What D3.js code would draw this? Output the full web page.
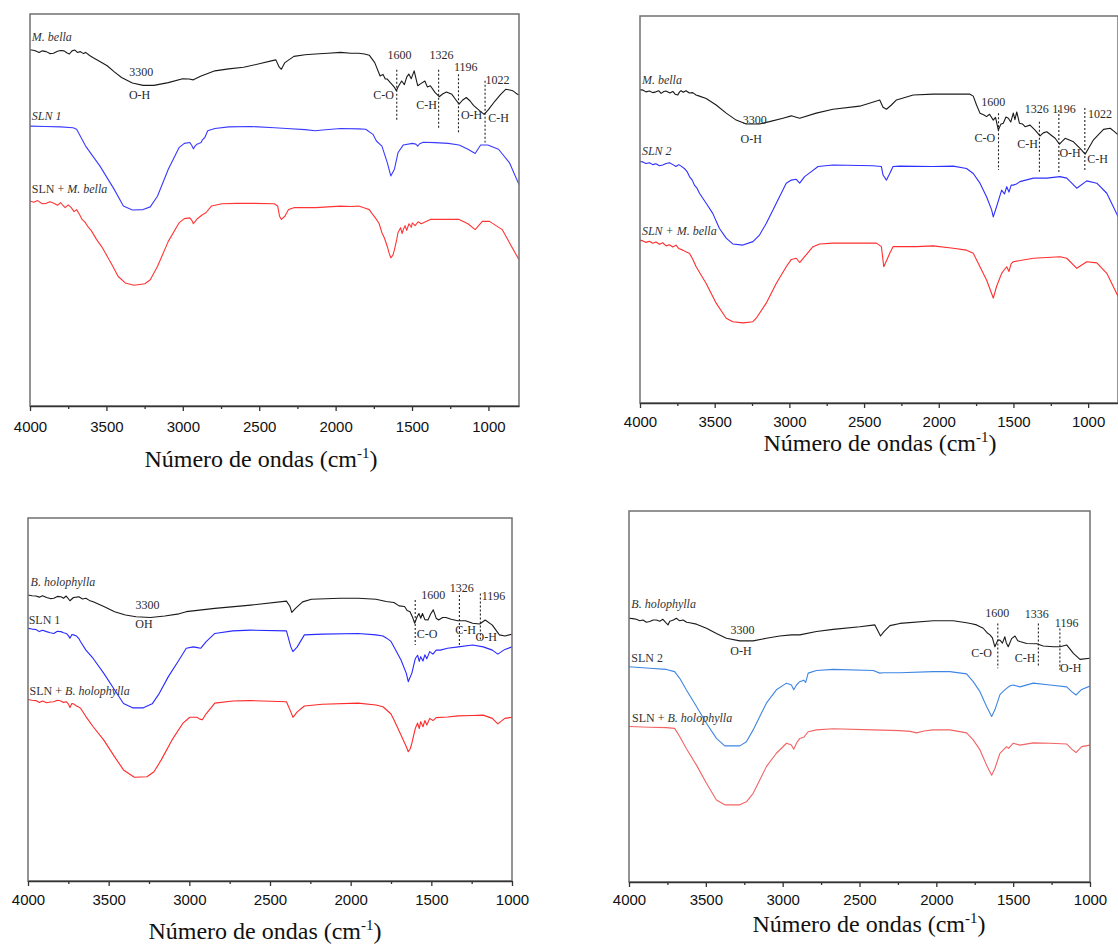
<!DOCTYPE html>
<html>
<head>
<meta charset="utf-8">
<script src="https://cdn.jsdelivr.net/npm/d3@7"></script>
<style>
  body { margin: 0; background: #fff; }
  svg text { font-family: "Liberation Serif", "Times New Roman", serif; }
  .tick text { font-family: "Liberation Sans", Arial, sans-serif; }
</style>
</head>
<body>
<svg id="chart" width="1118" height="947"></svg>
<script>
  // spectra: [wavenumber cm-1, transmittance a.u. 0-100 within each panel]

  // top left: M. bella / SLN 1
  var p1Black = [[4000,90.9],[3970,90.7],[3940,90.2],[3920,90.6],[3894,90.4],[3870,89.9],[3847,90.0],[3820,90.5],[3800,90.7],[3777,90.6],[3760,90.1],[3742,89.8],[3725,90.6],[3706,90.8],[3690,90.2],[3670,90.4],[3650,89.9],[3636,90.2],[3610,89.4],[3589,88.9],[3540,87.8],[3495,86.8],[3450,85.3],[3401,83.8],[3330,82.4],[3260,81.8],[3189,81.8],[3095,82.5],[3001,83.5],[2960,83.4],[2931,83.2],[2884,84.1],[2790,85.5],[2700,86.0],[2602,86.4],[2500,87.3],[2414,88.1],[2391,88.3],[2370,86.5],[2355,85.9],[2332,87.6],[2273,89.2],[2200,89.6],[2132,89.8],[2050,90.0],[1968,90.2],[1900,90.0],[1850,90.0],[1810,89.8],[1780,89.5],[1744,87.6],[1709,84.2],[1690,84.6],[1675,83.4],[1662,83.4],[1645,82.6],[1630,82.0],[1615,81.3],[1603,80.4],[1590,81.5],[1568,82.9],[1550,82.0],[1535,83.9],[1521,84.7],[1505,83.5],[1486,85.5],[1463,81.7],[1440,82.3],[1416,82.9],[1400,81.4],[1380,81.7],[1350,80.0],[1322,78.9],[1300,79.6],[1275,80.1],[1239,79.5],[1215,78.2],[1192,77.0],[1170,78.0],[1145,78.7],[1120,77.8],[1098,76.7],[1060,75.4],[1028,74.4],[1000,75.6],[957,77.8],[920,79.5],[887,80.8],[860,80.6],[840,80.4],[820,79.8],[800,79.3]];
  var p1Blue = [[4000,71.4],[3900,71.3],[3800,71.2],[3718,71.0],[3695,70.6],[3636,66.3],[3542,61.2],[3448,55.2],[3389,51.0],[3330,50.0],[3260,50.1],[3213,50.8],[3166,53.5],[3095,60.4],[3025,65.9],[2990,67.0],[2954,67.2],[2940,66.4],[2931,65.6],[2920,66.3],[2907,66.8],[2880,67.2],[2872,67.9],[2856,68.5],[2837,70.2],[2790,70.8],[2700,71.2],[2555,71.3],[2400,71.0],[2320,70.8],[2200,70.5],[2132,70.2],[2085,70.4],[1968,70.8],[1850,70.7],[1803,70.6],[1756,69.3],[1733,67.6],[1697,66.3],[1662,62.1],[1639,58.7],[1615,60.4],[1592,64.6],[1557,66.6],[1498,67.0],[1475,66.8],[1463,66.3],[1450,66.9],[1427,67.3],[1350,67.2],[1263,67.0],[1192,66.6],[1134,65.5],[1087,64.4],[1051,66.6],[1004,66.6],[934,65.5],[863,62.1],[800,56.5]];
  var p1Red = [[4000,52.3],[3975,52.0],[3950,52.4],[3920,51.6],[3894,51.7],[3870,52.1],[3847,51.8],[3820,51.2],[3800,51.9],[3789,51.4],[3770,50.6],[3750,51.3],[3730,50.6],[3712,49.6],[3695,50.1],[3675,48.8],[3659,47.6],[3640,46.9],[3624,45.9],[3600,44.8],[3565,42.5],[3530,40.6],[3495,38.2],[3460,35.8],[3424,33.1],[3377,31.4],[3319,30.8],[3248,31.2],[3213,32.2],[3166,35.6],[3095,42.0],[3025,46.7],[2990,47.8],[2954,48.0],[2940,47.3],[2931,46.5],[2915,47.3],[2907,47.7],[2872,48.8],[2849,49.3],[2813,51.0],[2743,51.6],[2650,51.7],[2555,51.7],[2402,51.6],[2379,51.0],[2367,48.4],[2355,47.6],[2332,48.4],[2308,50.1],[2273,50.6],[2132,50.6],[1968,51.0],[1900,50.9],[1850,51.0],[1810,50.5],[1780,50.1],[1760,49.0],[1733,47.6],[1715,46.5],[1697,44.2],[1680,42.8],[1662,40.7],[1650,39.0],[1639,37.8],[1625,38.5],[1615,39.9],[1600,42.5],[1592,44.2],[1575,45.5],[1565,44.0],[1557,45.0],[1545,46.0],[1535,44.8],[1520,46.5],[1505,45.6],[1498,46.7],[1480,46.0],[1460,47.0],[1440,46.5],[1380,47.6],[1300,47.6],[1192,47.6],[1134,46.5],[1087,45.0],[1040,47.1],[993,47.1],[910,45.0],[800,37.3]];
  var p1Names = [["*M. bella*",3988,93.2],["*SLN 1*",3988,72.9],["SLN + *M. bella*",3988,54.4]];
  var p1Peaks = [["3300",3272,84.2],["O-H",3283,78.3],["1600",1582,88.5],["C-O",1686,78.3],["1326",1307,88.5],["C-H",1404,75.7],["1196",1148,85.5],["O-H",1110,73.1],["1022",941,82.1],["C-H",934,72.5]];
  var p1Marks = [[1600,85.8,72.7],[1326,85.8,70.6],[1196,84.6,69.3],[1022,83.0,67.2]];

  // top right: M. bella / SLN 2
  var p2Black = [[4000,80.9],[3982,80.9],[3960,80.4],[3937,80.6],[3915,80.2],[3893,80.4],[3875,80.7],[3859,80.0],[3840,80.5],[3826,80.6],[3800,80.1],[3780,80.5],[3765,79.8],[3747,79.6],[3735,80.4],[3725,80.7],[3710,80.3],[3692,80.7],[3670,80.1],[3647,80.2],[3625,79.6],[3602,79.3],[3557,78.7],[3490,77.0],[3423,74.9],[3356,73.1],[3289,72.1],[3200,72.1],[3133,72.7],[3043,73.6],[2987,74.2],[2960,73.9],[2931,73.6],[2820,74.9],[2708,75.9],[2529,76.7],[2395,78.3],[2373,76.4],[2350,75.9],[2317,77.0],[2283,78.3],[2171,79.6],[2037,79.8],[1903,79.8],[1791,79.8],[1769,79.3],[1747,77.0],[1724,74.9],[1700,74.5],[1680,74.0],[1660,74.6],[1635,73.1],[1620,73.8],[1601,70.5],[1585,72.0],[1568,72.3],[1550,73.9],[1534,73.6],[1518,72.6],[1501,74.9],[1490,73.2],[1478,75.2],[1460,72.3],[1440,72.1],[1422,71.4],[1389,71.8],[1355,70.5],[1322,69.0],[1300,69.8],[1277,70.1],[1221,68.4],[1192,66.9],[1154,68.4],[1098,67.5],[1054,65.8],[1020,64.3],[964,68.0],[897,70.7],[852,71.0],[830,70.3],[799,69.3]];
  var p2Blue = [[4000,62.4],[3982,62.3],[3960,61.9],[3937,62.1],[3915,61.6],[3893,61.8],[3870,61.3],[3848,61.5],[3825,61.9],[3803,62.1],[3780,61.6],[3759,61.1],[3740,61.6],[3725,61.2],[3703,60.6],[3685,59.8],[3669,58.5],[3650,57.6],[3636,56.3],[3620,55.6],[3602,54.2],[3557,51.6],[3513,49.0],[3468,45.1],[3423,42.6],[3379,41.1],[3311,40.8],[3244,41.7],[3200,43.4],[3155,46.4],[3110,49.9],[3066,53.3],[3021,56.8],[2987,57.6],[2954,57.8],[2931,56.8],[2898,58.5],[2853,59.8],[2808,61.1],[2708,61.5],[2440,61.3],[2384,61.1],[2373,58.9],[2350,57.6],[2328,59.3],[2306,61.1],[2261,61.2],[2037,61.1],[1903,61.2],[1814,60.6],[1769,59.3],[1724,56.8],[1680,53.3],[1646,49.9],[1635,48.1],[1613,50.7],[1579,55.0],[1560,54.0],[1545,55.9],[1530,54.5],[1515,56.3],[1501,56.3],[1480,56.6],[1456,57.2],[1367,58.1],[1277,58.1],[1188,58.5],[1143,58.1],[1076,55.5],[1009,57.4],[942,56.8],[875,54.2],[799,48.1]];
  var p2Red = [[4000,42.1],[3982,41.9],[3960,41.5],[3937,41.8],[3915,41.3],[3893,41.6],[3870,41.0],[3848,41.4],[3825,40.6],[3803,40.9],[3780,40.3],[3759,40.8],[3740,39.9],[3714,39.5],[3690,39.0],[3669,38.7],[3645,37.0],[3624,35.2],[3557,30.9],[3490,25.8],[3423,21.9],[3379,21.0],[3311,20.7],[3244,21.0],[3222,21.9],[3155,25.8],[3088,30.9],[3021,35.2],[2987,37.1],[2954,37.4],[2931,36.3],[2898,37.8],[2842,40.4],[2797,41.1],[2708,41.3],[2417,41.3],[2384,40.4],[2368,35.2],[2346,37.1],[2328,38.7],[2306,40.4],[2149,40.4],[2037,40.6],[1903,40.0],[1814,39.5],[1769,38.7],[1724,35.2],[1680,31.8],[1646,28.3],[1635,27.1],[1613,30.1],[1579,33.5],[1560,34.5],[1545,35.2],[1530,34.0],[1515,36.0],[1501,36.5],[1367,37.4],[1188,37.8],[1143,37.4],[1076,34.8],[1009,36.5],[942,36.2],[875,33.5],[799,27.5]];
  var p2Names = [["*M. bella*",3987,82.4],["*SLN 2*",3987,64.1],["*SLN + M. bella*",3987,43.4]];
  var p2Peaks = [["3300",3231,72.1],["O-H",3256,67.3],["1600",1635,76.7],["C-O",1691,67.5],["1326",1344,75.0],["C-H",1405,65.8],["1196",1161,75.0],["O-H",1121,63.5],["1022",920,73.6],["C-H",937,62.1]];
  var p2Marks = [[1600,74.9,60.2],[1326,72.7,59.3],[1196,75.7,59.3],[1022,76.2,60.2]];

  // bottom left: B. holophylla / SLN 1
  var p3Black = [[4000,78.8],[3975,78.6],[3951,78.5],[3930,78.2],[3910,78.6],[3885,78.1],[3862,77.8],[3840,77.9],[3818,78.4],[3796,78.3],[3780,77.9],[3763,78.5],[3740,77.2],[3718,78.1],[3700,78.2],[3685,78.3],[3662,77.7],[3641,77.9],[3620,77.3],[3596,76.9],[3530,75.6],[3463,74.2],[3396,73.3],[3330,72.8],[3241,72.6],[3152,73.0],[3064,73.6],[3019,74.2],[2842,75.1],[2620,76.0],[2398,77.1],[2376,75.6],[2365,74.0],[2342,75.1],[2298,76.9],[2243,77.6],[2065,77.9],[1954,77.9],[1843,77.6],[1780,77.0],[1732,76.7],[1700,75.8],[1666,75.6],[1650,74.5],[1632,74.2],[1615,72.5],[1603,71.0],[1590,72.6],[1577,73.7],[1565,72.4],[1555,73.7],[1540,72.0],[1521,71.9],[1505,73.5],[1488,74.7],[1470,72.4],[1455,71.9],[1430,72.6],[1410,72.6],[1377,72.1],[1337,71.7],[1288,71.7],[1244,71.0],[1200,70.8],[1166,71.9],[1122,70.5],[1078,67.8],[1044,67.5],[1000,68.0]];
  var p3Blue = [[4000,69.6],[3975,69.4],[3951,69.3],[3930,68.7],[3910,69.1],[3885,68.7],[3862,68.4],[3840,68.2],[3818,68.8],[3796,68.7],[3780,68.4],[3763,68.2],[3750,67.6],[3740,66.9],[3728,67.9],[3718,67.8],[3700,67.5],[3685,66.8],[3674,65.9],[3641,63.6],[3596,61.3],[3530,57.2],[3463,52.6],[3408,48.9],[3352,47.7],[3285,47.7],[3230,48.8],[3186,51.7],[3130,56.3],[3064,60.9],[3019,64.1],[2975,64.5],[2950,64.3],[2930,64.1],[2897,65.9],[2842,68.2],[2731,68.9],[2620,69.1],[2398,68.9],[2371,64.5],[2358,63.2],[2331,64.5],[2287,67.8],[2176,68.0],[1954,68.2],[1843,67.8],[1800,67.5],[1777,66.9],[1750,66.0],[1732,64.5],[1688,60.9],[1655,57.2],[1643,54.9],[1635,55.8],[1621,57.2],[1599,61.3],[1585,62.2],[1575,60.5],[1566,61.8],[1552,60.6],[1540,62.3],[1528,61.2],[1510,63.2],[1490,62.5],[1470,63.6],[1444,63.6],[1400,64.1],[1333,64.5],[1244,65.0],[1178,64.5],[1122,63.6],[1088,62.5],[1044,63.8],[1000,64.5]];
  var p3Red = [[4000,50.0],[3975,49.8],[3951,49.7],[3930,49.2],[3910,49.6],[3885,49.1],[3862,49.3],[3840,49.4],[3818,49.8],[3796,49.6],[3780,49.2],[3763,49.4],[3750,48.8],[3740,47.8],[3728,48.9],[3718,48.8],[3700,48.2],[3685,47.9],[3674,47.6],[3641,45.3],[3596,42.5],[3530,38.8],[3463,34.2],[3408,30.6],[3341,28.6],[3263,28.7],[3219,30.1],[3175,33.3],[3108,38.8],[3041,43.4],[2997,45.1],[2953,45.1],[2935,44.6],[2919,44.4],[2900,45.8],[2886,46.6],[2842,49.0],[2731,49.6],[2620,49.7],[2398,49.4],[2371,46.6],[2358,45.1],[2331,46.6],[2287,48.2],[2176,48.7],[1954,49.0],[1843,48.5],[1800,48.0],[1777,47.1],[1750,46.0],[1732,44.4],[1688,40.2],[1655,37.0],[1643,35.6],[1630,36.5],[1621,37.9],[1599,42.1],[1585,43.5],[1575,42.0],[1566,43.9],[1552,42.5],[1540,44.2],[1528,43.0],[1510,44.8],[1490,44.2],[1470,45.0],[1400,45.2],[1333,45.5],[1244,45.6],[1178,45.7],[1122,44.8],[1088,43.3],[1044,44.8],[1000,45.1]];
  var p3Names = [["*B. holophylla*",3984,81.3],["SLN 1",3996,70.8],["SLN + *B. holophylla*",3990,51.2]];
  var p3Peaks = [["3300",3259,74.9],["OH",3281,69.6],["1600",1488,77.7],["C-O",1526,67.0],["1326",1311,79.7],["C-H",1288,68.0],["1196",1115,77.4],["O-H",1160,66.2]];
  var p3Marks = [[1600,77.4,65.0],[1326,78.8,64.6],[1196,79.2,66.3]];

  // bottom right: B. holophylla / SLN 2
  var p4Black = [[4000,71.1],[3976,71.0],[3952,70.8],[3930,70.4],[3909,70.6],[3887,70.0],[3865,70.2],[3843,70.6],[3822,70.6],[3800,70.3],[3779,70.8],[3762,70.0],[3746,69.3],[3735,70.3],[3724,70.4],[3708,70.7],[3692,71.1],[3670,70.4],[3648,70.6],[3625,70.0],[3605,69.9],[3561,69.5],[3496,68.4],[3431,67.0],[3366,65.7],[3279,65.0],[3192,65.0],[3106,65.7],[3019,66.3],[2943,66.6],[2889,66.6],[2780,67.5],[2672,68.1],[2498,68.8],[2400,69.3],[2378,67.5],[2363,66.3],[2341,67.5],[2302,69.1],[2237,69.7],[2020,70.4],[1890,70.4],[1803,69.9],[1770,69.6],[1738,69.3],[1715,68.8],[1695,68.4],[1670,67.2],[1651,66.6],[1635,65.8],[1619,63.4],[1600,65.2],[1586,65.2],[1570,64.4],[1554,66.1],[1545,64.5],[1532,63.4],[1510,65.6],[1488,66.3],[1470,65.0],[1456,64.8],[1412,64.3],[1347,64.2],[1304,63.6],[1239,63.4],[1195,63.4],[1152,63.9],[1108,61.6],[1065,60.0],[1000,60.3]];
  var p4Blue = [[4000,58.0],[3865,57.6],[3757,57.3],[3703,56.7],[3670,54.9],[3627,51.8],[3561,47.3],[3496,42.8],[3431,38.7],[3377,36.7],[3279,36.7],[3236,37.8],[3192,41.0],[3149,44.6],[3106,48.2],[3041,51.8],[2975,53.6],[2943,53.1],[2928,51.8],[2910,53.1],[2889,54.0],[2863,54.4],[2850,53.8],[2834,56.3],[2780,57.0],[2672,57.3],[2411,57.0],[2368,56.3],[2346,56.4],[2237,56.4],[2020,56.7],[1912,56.7],[1803,56.1],[1760,54.0],[1716,51.3],[1673,47.3],[1640,44.6],[1619,46.4],[1586,50.5],[1560,51.6],[1543,52.2],[1520,52.9],[1499,53.1],[1456,52.6],[1369,53.6],[1260,53.1],[1152,52.6],[1119,51.3],[1091,50.4],[1054,51.9],[1000,52.8]];
  var p4Red = [[4000,41.9],[3865,41.7],[3757,41.6],[3703,41.4],[3670,39.2],[3627,36.0],[3561,31.5],[3496,26.6],[3431,22.1],[3377,20.8],[3279,20.8],[3236,21.6],[3192,23.9],[3149,27.5],[3106,31.1],[3041,34.7],[2975,37.4],[2943,36.9],[2928,35.8],[2910,37.4],[2889,38.7],[2863,39.0],[2834,40.5],[2780,41.0],[2672,41.3],[2411,41.0],[2237,40.8],[2170,40.6],[2129,40.2],[2080,40.7],[2020,41.0],[1912,41.0],[1803,40.2],[1760,38.3],[1716,35.6],[1673,31.5],[1640,28.8],[1619,30.6],[1586,34.7],[1543,36.5],[1530,36.0],[1499,37.4],[1456,36.9],[1369,37.5],[1260,37.4],[1152,37.2],[1119,35.8],[1091,34.9],[1054,36.5],[1000,36.9]];
  var p4Names = [["*B. holophylla*",3985,73.8],["SLN 2",3985,59.4],["SLN + *B. holophylla*",3980,43.2]];
  var p4Peaks = [["3300",3262,66.8],["O-H",3271,61.2],["1600",1603,71.3],["C-O",1705,60.6],["1336",1347,71.1],["C-H",1423,59.4],["1196",1152,68.8],["O-H",1126,56.7]];
  var p4Marks = [[1600,69.7,57.6],[1336,69.7,58.0],[1196,68.3,57.2]];

  var majorTicks = [4000,3500,3000,2500,2000,1500,1000];
  var minorTicks = [3750,3250,2750,2250,1750,1250];
  var xTitle = "Número de ondas (cm";

  // panel frames (pixels)
  var panels = [
    {left:30, right:519, top:14, bottom:406, xEnd:800, pad:10, titleX:261, titleY:467,
     curves:[[p1Black,"#1a1a1a"],[p1Blue,"#3b3bff"],[p1Red,"#ff3535"]], names:p1Names, peaks:p1Peaks, marks:p1Marks},
    {left:640, right:1118, top:16, bottom:403, xEnd:800, pad:8, titleX:880, titleY:451,
     curves:[[p2Black,"#1a1a1a"],[p2Blue,"#2f2fff"],[p2Red,"#ff2e2e"]], names:p2Names, peaks:p2Peaks, marks:p2Marks},
    {left:28, right:512, top:518, bottom:881, xEnd:1000, pad:8, titleX:265, titleY:939,
     curves:[[p3Black,"#1a1a1a"],[p3Blue,"#2a2aff"],[p3Red,"#ff2a2a"]], names:p3Names, peaks:p3Peaks, marks:p3Marks},
    {left:629, right:1090, top:511, bottom:882, xEnd:1000, pad:7, titleX:869, titleY:932,
     curves:[[p4Black,"#1a1a1a"],[p4Blue,"#3f86e4"],[p4Red,"#f26464"]], names:p4Names, peaks:p4Peaks, marks:p4Marks}
  ];

  var svg = d3.select("#chart");

  //writes "SLN + *M. bella*" with the starred part in italics
  function richText(sel, str){
    str.split("*").forEach(function(part, i){
      if(part == "") return;
      sel.append("tspan").attr("font-style", i % 2 ? "italic" : "normal").text(part);
    });
  }

  panels.forEach(function(p, k){
    var x = d3.scaleLinear().domain([4000, p.xEnd]).range([p.left, p.right]);
    var y = d3.scaleLinear().domain([0, 100]).range([p.bottom, p.top]);
    var g = svg.append("g");

    g.append("clipPath").attr("id", "clip" + k)
      .append("rect").attr("x", p.left).attr("y", p.top)
      .attr("width", p.right - p.left).attr("height", p.bottom - p.top);

    var line = d3.line().x(function(d){ return x(d[0]); }).y(function(d){ return y(d[1]); });

    g.append("g").attr("clip-path", "url(#clip" + k + ")")
      .selectAll("path")
      .data(p.curves)
      .enter()
      .append("path")
      .attr("d", function(d){ return line(d[0]); })
      .attr("fill", "none")
      .attr("stroke", function(d){ return d[1]; })
      .attr("stroke-width", 1.1)
      .attr("stroke-linejoin", "round");

    // frame
    g.append("rect")
      .attr("x", p.left).attr("y", p.top)
      .attr("width", p.right - p.left).attr("height", p.bottom - p.top)
      .attr("fill", "none").attr("stroke", "#707070").attr("stroke-width", 1.5);

    // dashed peak markers
    g.selectAll(".mark")
      .data(p.marks)
      .enter()
      .append("line")
      .attr("x1", function(d){ return x(d[0]); }).attr("x2", function(d){ return x(d[0]); })
      .attr("y1", function(d){ return y(d[1]); }).attr("y2", function(d){ return y(d[2]); })
      .attr("stroke", "#222").attr("stroke-width", 1.1).attr("stroke-dasharray", "2,2");

    g.selectAll(".peak")
      .data(p.peaks)
      .enter()
      .append("text")
      .attr("x", function(d){ return x(d[1]); })
      .attr("y", function(d){ return y(d[2]); })
      .attr("text-anchor", "middle")
      .attr("font-size", 12)
      .attr("fill", "#2a2a2a")
      .text(function(d){ return d[0]; });

    g.selectAll(".name")
      .data(p.names)
      .enter()
      .append("text")
      .attr("x", function(d){ return x(d[1]); })
      .attr("y", function(d){ return y(d[2]); })
      .attr("font-size", 12)
      .attr("fill", "#333")
      .each(function(d){ richText(d3.select(this), d[0]); });

    // x axis
    var ax = g.append("g").attr("transform", "translate(0," + p.bottom + ")")
      .call(d3.axisBottom(x).tickValues(majorTicks).tickSize(5).tickSizeOuter(0).tickPadding(p.pad).tickFormat(d3.format("d")));
    ax.select(".domain").attr("stroke", "#333").attr("stroke-width", 1.5);
    ax.selectAll(".tick line").attr("stroke", "#333").attr("stroke-width", 1.3);
    ax.selectAll(".tick text").attr("font-size", 15).attr("fill", "#111");

    var minor = g.append("g").attr("transform", "translate(0," + p.bottom + ")")
      .call(d3.axisBottom(x).tickValues(minorTicks).tickSize(3).tickSizeOuter(0).tickFormat(""));
    minor.select(".domain").remove();
    minor.selectAll(".tick line").attr("stroke", "#333").attr("stroke-width", 1.3);

    var title = g.append("text")
      .attr("x", p.titleX).attr("y", p.titleY)
      .attr("text-anchor", "middle")
      .attr("font-size", 24)
      .attr("fill", "#111");
    title.append("tspan").text(xTitle);
    title.append("tspan").attr("font-size", 15).attr("dy", -9).text("-1");
    title.append("tspan").attr("dy", 9).text(")");
  });
</script>
</body>
</html>
